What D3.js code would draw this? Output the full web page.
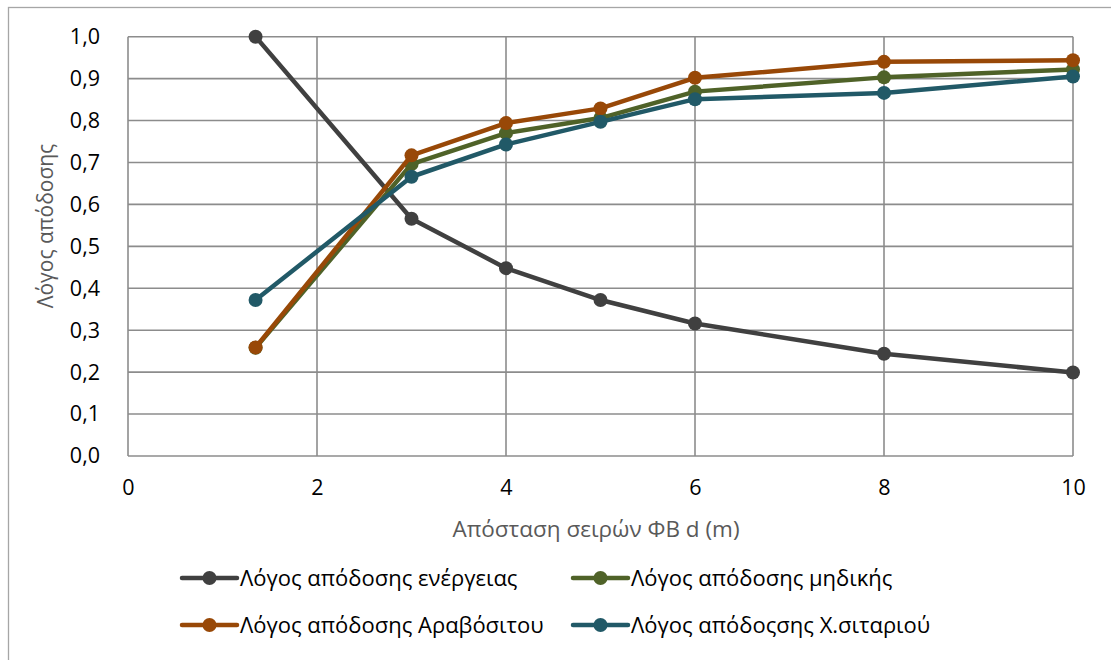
<!DOCTYPE html>
<html>
<head>
<meta charset="utf-8">
<script src="https://cdn.jsdelivr.net/npm/d3@7"></script>
<style>
  html, body { margin: 0; padding: 0; background: #fff; }
  svg { display: block; }
</style>
</head>
<body>
<svg id="chart" width="1111" height="660"></svg>
<script>
// ---- data ----
const distances = [1.35, 3, 4, 5, 6, 8, 10];
const energyRatio  = [1.0, 0.566, 0.448, 0.372, 0.316, 0.244, 0.199];
const alfalfaRatio = [0.258, 0.696, 0.770, 0.806, 0.869, 0.903, 0.922];
const cornRatio    = [0.259, 0.717, 0.794, 0.829, 0.902, 0.940, 0.944];
const wheatRatio   = [0.372, 0.666, 0.743, 0.797, 0.851, 0.866, 0.905];
const seriesNames = [
  "Λόγος απόδοσης ενέργειας",
  "Λόγος απόδοσης μηδικής",
  "Λόγος απόδοσης Αραβόσιτου",
  "Λόγος απόδοςσης Χ.σιταριού"
];
const seriesColors = ["#404040", "#4f6228", "#984807", "#215967"];
const xTicks = [0, 2, 4, 6, 8, 10];
const xTickLabels = ["0", "2", "4", "6", "8", "10"];
const yTicks = [0, 0.1, 0.2, 0.3, 0.4, 0.5, 0.6, 0.7, 0.8, 0.9, 1.0];
const yTickLabels = ["0,0", "0,1", "0,2", "0,3", "0,4", "0,5", "0,6", "0,7", "0,8", "0,9", "1,0"];
const xTitle = "Απόσταση σειρών ΦΒ d (m)";
const yTitle = "Λόγος απόδοσης";

(function () {
const svg = d3.select("#chart");
const pLeft = 128, pRight = 1073, pTop = 36.7, pBottom = 456;
const x = d3.scaleLinear().domain([0, 10]).range([pLeft, pRight]);
const y = d3.scaleLinear().domain([0, 1]).range([pBottom, pTop]);
const gridColor = "#8c8c8c";

// outer border
svg.append("rect").attr("x", 8.5).attr("y", 7.5).attr("width", 1120).attr("height", 680)
  .attr("fill", "none").attr("stroke", "#a6a6a6").attr("stroke-width", 1.3);

// gridlines
svg.append("g").selectAll("line").data(yTicks).join("line")
  .attr("x1", pLeft).attr("x2", pRight).attr("y1", d => y(d)).attr("y2", d => y(d))
  .attr("stroke", gridColor).attr("stroke-width", 1.6);
svg.append("g").selectAll("line").data(xTicks).join("line")
  .attr("y1", pTop).attr("y2", pBottom).attr("x1", d => x(d)).attr("x2", d => x(d))
  .attr("stroke", gridColor).attr("stroke-width", 1.6);

// axes
const yAxis = d3.axisLeft(y).tickValues(yTicks).tickSize(0).tickPadding(28)
  .tickFormat((d, i) => yTickLabels[i]);
const gy = svg.append("g").attr("transform", `translate(${pLeft},0)`).call(yAxis);
gy.select(".domain").remove();
gy.selectAll("text").attr("font-family", "Open Sans").attr("font-size", 21.5).attr("fill", "#000");

const xAxis = d3.axisBottom(x).tickValues(xTicks).tickSize(0).tickPadding(24)
  .tickFormat((d, i) => xTickLabels[i]);
const gx = svg.append("g").attr("transform", `translate(0,${pBottom})`).call(xAxis);
gx.select(".domain").remove();
gx.selectAll("text").attr("font-family", "Open Sans").attr("font-size", 21.5).attr("fill", "#000");

// titles
svg.append("text").attr("x", 596).attr("y", 537).attr("text-anchor", "middle")
  .attr("font-family", "Open Sans").attr("font-size", 22.5).attr("fill", "#595959").text(xTitle);
svg.append("text").attr("transform", `translate(53,226) rotate(-90)`)
  .attr("text-anchor", "middle")
  .attr("font-family", "Open Sans").attr("font-size", 21).attr("fill", "#595959").text(yTitle);

// series
const allSeries = [energyRatio, alfalfaRatio, cornRatio, wheatRatio];
const line = d3.line().x((d, i) => x(distances[i])).y(d => y(d));
allSeries.forEach((vals, si) => {
  const g = svg.append("g");
  g.append("path").attr("d", line(vals)).attr("fill", "none")
    .attr("stroke", seriesColors[si]).attr("stroke-width", 4.5).attr("stroke-linejoin", "round");
  g.selectAll("circle").data(vals).join("circle")
    .attr("cx", (d, i) => x(distances[i])).attr("cy", d => y(d)).attr("r", 7)
    .attr("fill", seriesColors[si]);
});

// legend
const legendPos = [[182, 578], [573, 578], [182, 625], [573, 625]];
seriesNames.forEach((name, i) => {
  const [lx, ly] = legendPos[i];
  const g = svg.append("g").attr("transform", `translate(${lx},${ly})`);
  g.append("line").attr("x1", 0).attr("x2", 55).attr("y1", 0).attr("y2", 0)
    .attr("stroke", seriesColors[i]).attr("stroke-width", 4.5).attr("stroke-linecap", "round");
  g.append("circle").attr("cx", 27.5).attr("cy", 0).attr("r", 7).attr("fill", seriesColors[i]);
  g.append("text").attr("x", 58).attr("y", 8).attr("font-family", "Open Sans")
    .attr("font-size", 22).attr("fill", "#000").text(name);
});
})();
</script>
</body>
</html>
